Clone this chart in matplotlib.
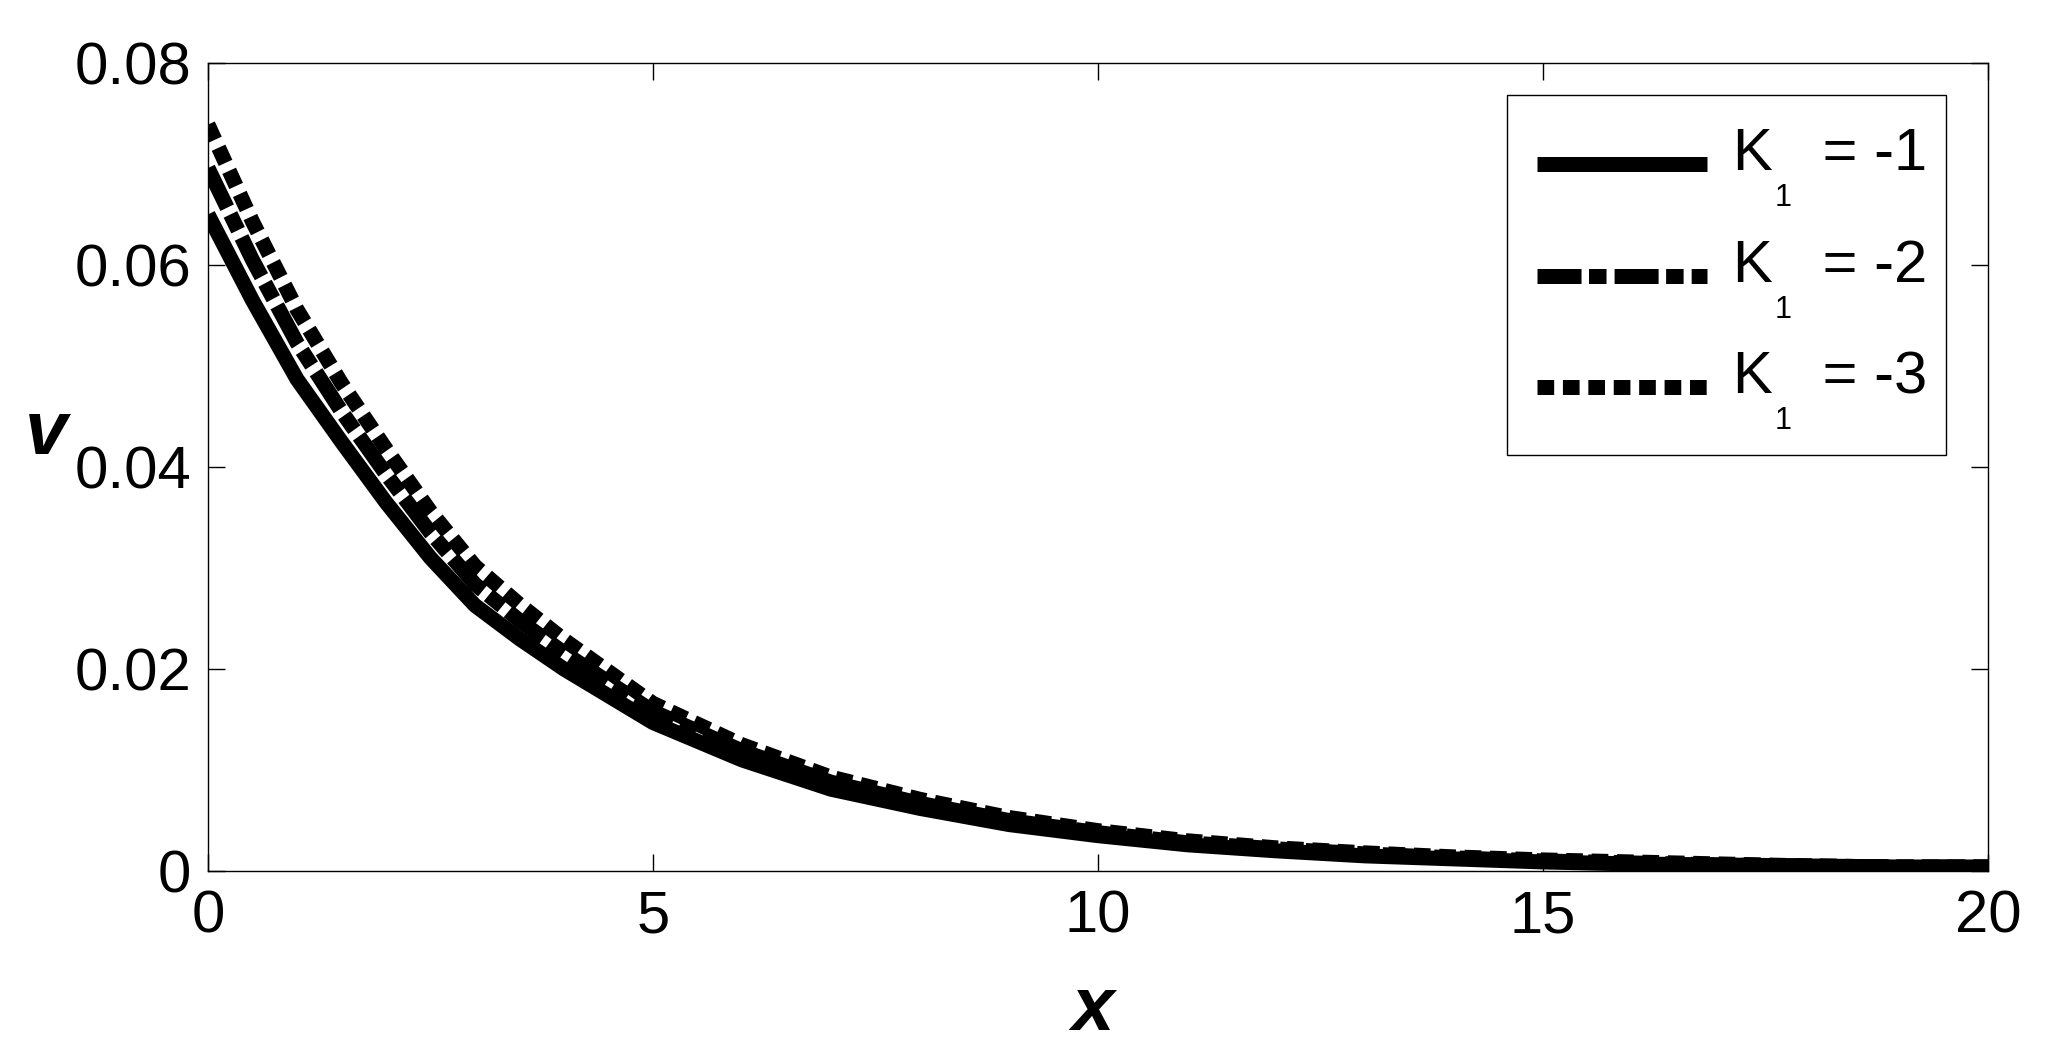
import matplotlib

matplotlib.use("Agg")
import matplotlib.pyplot as plt
from matplotlib.patches import Rectangle
from matplotlib.transforms import IdentityTransform

# values
x_vals = [0, 0.5, 1, 1.5, 2, 2.5, 3, 3.5, 4, 5, 6, 7, 8, 9, 10,
          11, 12, 13, 14, 15, 16, 17, 18, 19, 20]
v_k1 = [0.0650, 0.0565, 0.0487, 0.0425, 0.0365, 0.0310, 0.0263, 0.0230, 0.0200,
        0.0147, 0.0110, 0.0081, 0.0062, 0.0046, 0.0035, 0.0026, 0.0020, 0.0015,
        0.0012, 0.0009, 0.0007, 0.0006, 0.0005, 0.0004, 0.0004]
v_k2 = [0.0696, 0.0605, 0.0523, 0.0455, 0.0393, 0.0335, 0.0284, 0.0248, 0.0216,
        0.0158, 0.0119, 0.0088, 0.0067, 0.0050, 0.0038, 0.0028, 0.0022, 0.0017,
        0.0013, 0.0010, 0.0008, 0.0006, 0.0005, 0.0004, 0.0004]
v_k3 = [0.0739, 0.0643, 0.0556, 0.0483, 0.0418, 0.0356, 0.0302, 0.0264, 0.0229,
        0.0166, 0.0125, 0.0093, 0.0071, 0.0053, 0.0040, 0.0030, 0.0023, 0.0018,
        0.0014, 0.0011, 0.0009, 0.0007, 0.0005, 0.0004, 0.0004]
k1_values = ["-1", "-2", "-3"]
# the subscript "1" is drawn separately, lower than mathtext would put it
labels = ["K   = " + k for k in k1_values]
x_ticks = [0, 5, 10, 15, 20]
y_ticks = [0, 0.02, 0.04, 0.06, 0.08]
y_ticklabels = ["0", "0.02", "0.04", "0.06", "0.08"]

plt.rcParams["font.family"] = ["Liberation Sans", "DejaVu Sans"]
plt.rcParams["lines.scale_dashes"] = False

fig = plt.figure(figsize=(20.49, 10.59), dpi=100)
ax = fig.add_axes([0.1015, 0.1775, 0.8687, 0.763])

lw = 10.8
ax.plot(x_vals, v_k1, color="black", lw=lw, solid_capstyle="butt", label=labels[0])
ax.plot(x_vals, v_k2, color="black", lw=lw, dash_capstyle="butt",
        linestyle=(0, (31.7, 5.4, 12.6, 5.8)), label=labels[1])
ax.plot(x_vals, v_k3, color="black", lw=lw, dash_capstyle="butt",
        linestyle=(0, (12.0, 6.3)), label=labels[2])

ax.set_xlim(0, 20)
ax.set_ylim(0, 0.08)
ax.set_xticks(x_ticks)
ax.set_xticklabels([str(t) for t in x_ticks])
ax.set_yticks(y_ticks)
ax.set_yticklabels(y_ticklabels)
ax.tick_params(direction="in", length=12, width=1.0, labelsize=43,
               top=True, right=True)
ax.tick_params(axis="y", pad=12)
ax.tick_params(axis="x", pad=13)
for sp in ax.spines.values():
    sp.set_linewidth(1.0)

ax.set_xlabel("x", fontsize=55, fontweight="bold", fontstyle="italic")
ax.set_ylabel("v", fontsize=55, fontweight="bold", fontstyle="italic", rotation=0)
ax.xaxis.set_label_coords(0.497, -0.172)
ax.yaxis.set_label_coords(-0.091, 0.54)
ax.xaxis.label.set_va("center")
ax.yaxis.label.set_va("center")
ax.yaxis.label.set_ha("center")

leg = ax.legend(loc="upper right", bbox_to_anchor=(0.9844, 0.943), borderaxespad=0,
                fontsize=43, handlelength=2.85, handletextpad=0.43,
                labelspacing=0.95, borderpad=0.55, frameon=False)

# legend frame drawn by hand: taller at the bottom to hold the low subscripts
ax.add_patch(Rectangle((0.7298, 0.5149), 0.2466, 0.4455, transform=ax.transAxes,
                       fill=True, facecolor="white", edgecolor="black",
                       linewidth=1.0, zorder=4))
leg.set_zorder(5)

# labels sit a little higher against their line than matplotlib puts them
for t in leg.get_texts():
    t.set_y(15)

# place the subscripts under the right foot of each K
fig.canvas.draw()
renderer = fig.canvas.get_renderer()
for t in leg.get_texts():
    bb = t.get_window_extent(renderer)
    _, _, descent = t._get_layout(renderer)
    baseline = bb.y0 + descent
    k_w, _, _ = renderer.get_text_width_height_descent("K", t.get_fontproperties(), ismath=False)
    fig.text(bb.x0 + k_w + 2, baseline - 36, "1", fontsize=22,
             ha="left", va="baseline", transform=IdentityTransform(), zorder=6)

fig.savefig("out.png", dpi=100, facecolor="white")
